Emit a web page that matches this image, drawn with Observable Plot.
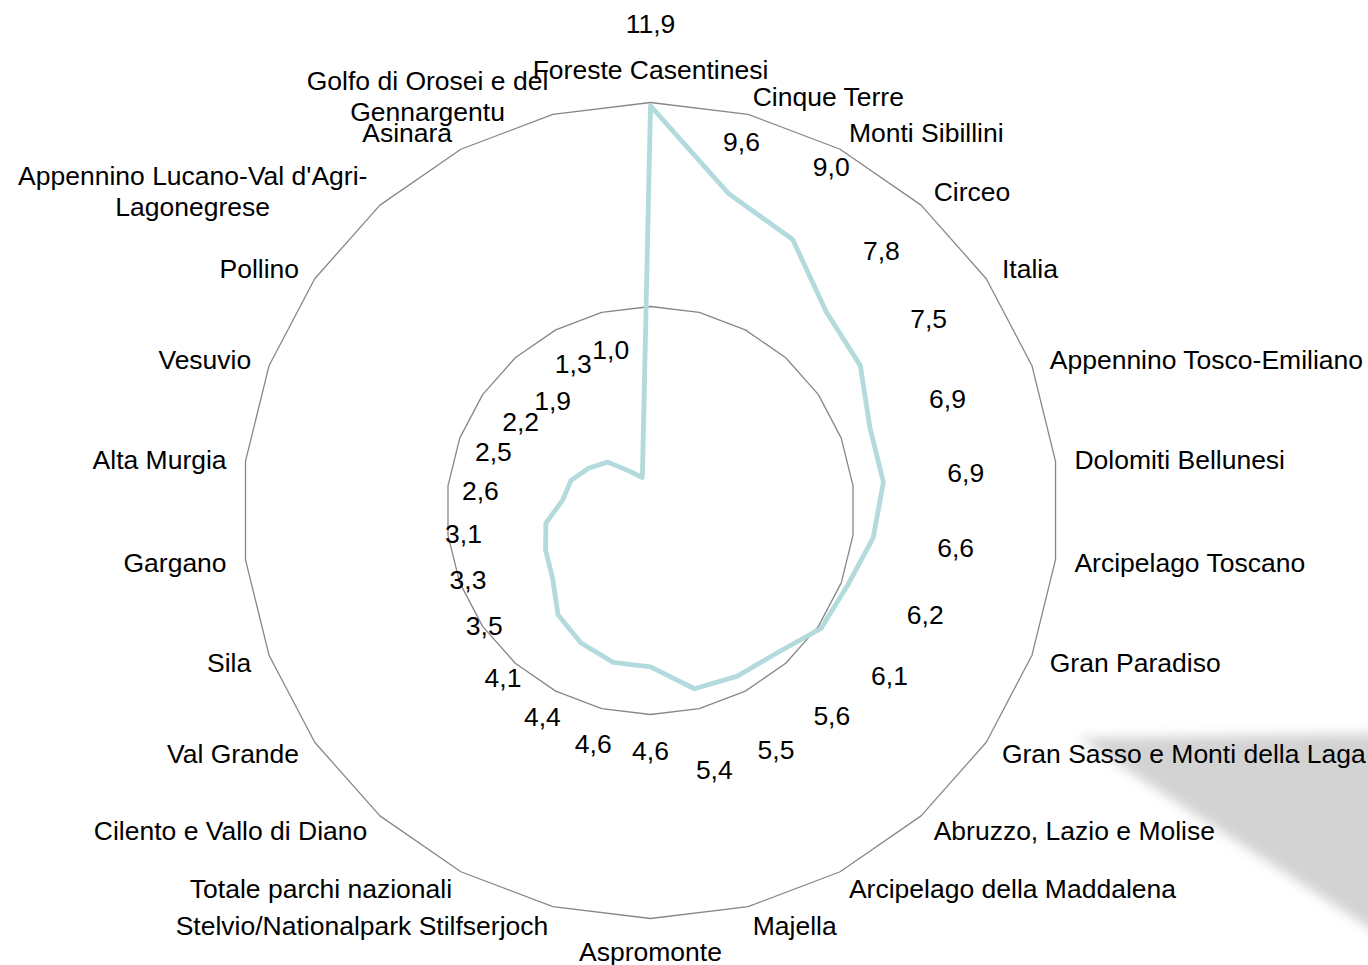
<!DOCTYPE html>
<html>
<head>
<meta charset="utf-8">
<script src="https://cdn.jsdelivr.net/npm/d3@7"></script>
<script src="https://cdn.jsdelivr.net/npm/@observablehq/plot@0.6"></script>
<style>
  html, body { margin: 0; padding: 0; background: #fff; overflow: hidden; }
  #chart svg { display: block; }
</style>
</head>
<body>
<div id="chart"></div>
<script>
// ---- DATA ----
const parks = [
  "Foreste Casentinesi", "Cinque Terre", "Monti Sibillini", "Circeo", "Italia",
  "Appennino Tosco-Emiliano", "Dolomiti Bellunesi", "Arcipelago Toscano", "Gran Paradiso",
  "Gran Sasso e Monti della Laga", "Abruzzo, Lazio e Molise", "Arcipelago della Maddalena",
  "Majella", "Aspromonte", "Stelvio/Nationalpark Stilfserjoch", "Totale parchi nazionali",
  "Cilento e Vallo di Diano", "Val Grande", "Sila", "Gargano", "Alta Murgia", "Vesuvio",
  "Pollino", "Appennino Lucano-Val d'Agri-Lagonegrese", "Asinara",
  "Golfo di Orosei e del Gennargentu"
];
const values = [
  11.9, 9.6, 9.0, 7.8, 7.5, 6.9, 6.9, 6.6, 6.2, 6.1, 5.6, 5.5, 5.4,
  4.6, 4.6, 4.4, 4.1, 3.5, 3.3, 3.1, 2.6, 2.5, 2.2, 1.9, 1.3, 1.0
];
const ringValues = [6, 12];
const radialMax = 12;

// ---- LAYOUT / STYLE ----
const W = 1368, H = 965;
const CX = 650, CY = 510, R_PX = 408;
const ppu = R_PX / radialMax;                 // pixels per value unit
const FONT = "'Liberation Sans', Arial, Helvetica, sans-serif";
const FS = 26.5;
const lineColor = "#b3dadd";
const gridColor = "#878787";
const labelWrap = {
  "Appennino Lucano-Val d'Agri-Lagonegrese": "Appennino Lucano-Val d'Agri-\nLagonegrese",
  "Golfo di Orosei e del Gennargentu": "Golfo di Orosei e del\nGennargentu"
};
const valueLabelGap = 83;                      // px beyond the point
const valueLabelGapOverride = {"Cinque Terre": 54, "Asinara": 122, "Golfo di Orosei e del Gennargentu": 132};

const n = parks.length;
const angle = i => 2 * Math.PI * i / n;
const polar = (r, i) => ({x: r * Math.sin(angle(i)), y: r * Math.cos(angle(i))});
const fmt = v => v.toFixed(1).replace(".", ",");

// series points
const series = parks.map((p, i) => ({park: p, value: values[i], ...polar(values[i], i)}));

// grid rings
const rings = ringValues.flatMap(rv => parks.map((p, i) => ({ring: rv, ...polar(rv, i)})));

// value labels
const valueLabels = series.map((d, i) => {
  const gap = valueLabelGapOverride[d.park] ?? valueLabelGap;
  return {text: fmt(d.value), ...polar(d.value + gap / ppu, i)};
});

// category labels
const canvas = document.createElement("canvas");
const ctx = canvas.getContext("2d");
ctx.font = `${FS}px ${FONT}`;
const catLabels = parks.map((p, i) => {
  const text = labelWrap[p] ?? p;
  let anchor, r;
  if (i === 0 || i === n / 2) { anchor = "middle"; r = radialMax + 33 / ppu; }
  else if (i < n / 2) { anchor = "start"; r = radialMax + 19 / ppu; }
  else { anchor = "end"; r = radialMax + 19 / ppu; }
  const multi = text.includes("\n");
  const blockW = Math.max(...text.split("\n").map(s => ctx.measureText(s).width));
  return {text, anchor, multi, blockW, ...polar(r, i)};
});

const textBase = {fontSize: FS, fontFamily: FONT, fill: "#000", lineAnchor: "middle", lineHeight: 1.14};

const marks = [
  Plot.line(rings, {x: "x", y: "y", z: "ring", stroke: gridColor, strokeWidth: 1.3, curve: "linear-closed"}),
  Plot.line(series, {x: "x", y: "y", stroke: lineColor, strokeWidth: 4.8, curve: "linear-closed", strokeLinejoin: "round"}),
  Plot.text(valueLabels, {x: "x", y: "y", text: "text", textAnchor: "middle", ...textBase}),
  Plot.text(catLabels.filter(d => !d.multi && d.anchor === "middle"), {x: "x", y: "y", text: "text", textAnchor: "middle", ...textBase}),
  Plot.text(catLabels.filter(d => !d.multi && d.anchor === "start"), {x: "x", y: "y", text: "text", textAnchor: "start", ...textBase}),
  Plot.text(catLabels.filter(d => !d.multi && d.anchor === "end"), {x: "x", y: "y", text: "text", textAnchor: "end", ...textBase}),
  ...catLabels.filter(d => d.multi).map(d =>
    Plot.text([d], {x: "x", y: "y", text: "text", textAnchor: "middle", dx: (d.anchor === "end" ? -1 : 1) * d.blockW / 2, ...textBase})
  )
];

const chart = Plot.plot({
  width: W,
  height: H,
  margin: 0,
  x: {domain: [-CX / ppu, (W - CX) / ppu], axis: null},
  y: {domain: [-(H - CY) / ppu, CY / ppu], axis: null},
  style: {background: "#fff", fontFamily: FONT},
  marks
});

// decorative soft grey shadow (artifact in the reference image), behind everything
const svg = d3.select(chart);
const defs = svg.insert("defs", ":first-child");
defs.append("filter").attr("id", "shadowBlur").attr("x", "-20%").attr("y", "-20%").attr("width", "140%").attr("height", "140%")
  .append("feGaussianBlur").attr("stdDeviation", 6);
svg.insert("polygon", "defs + *")
  .attr("points", "1078,738 1400,733 1400,948")
  .attr("fill", "#d3d3d3")
  .attr("filter", "url(#shadowBlur)");

document.getElementById("chart").appendChild(chart);
</script>
</body>
</html>
